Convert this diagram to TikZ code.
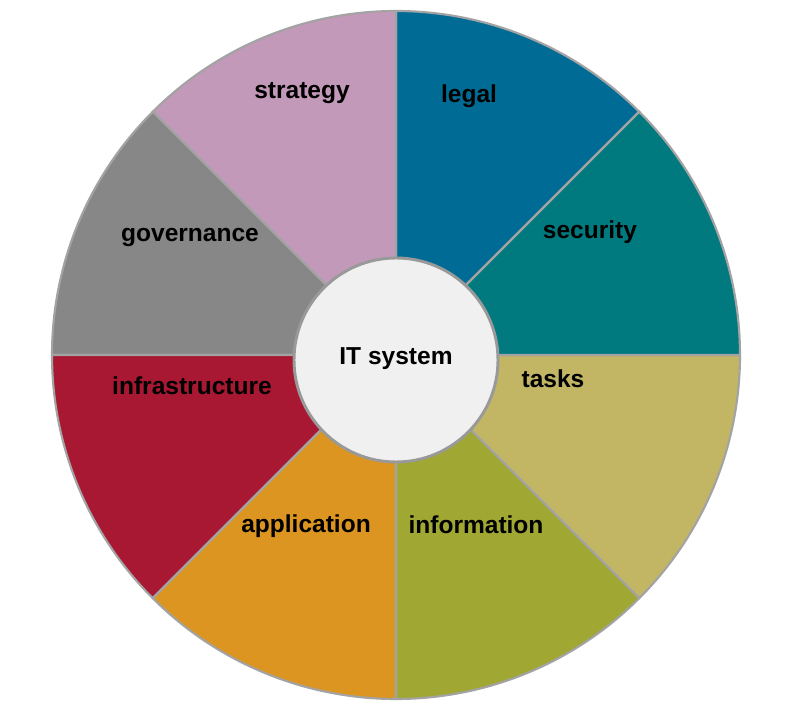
\documentclass[tikz,border=0pt]{standalone}
\usepackage{fontspec}
\setmainfont{Liberation Sans}
\definecolor{cStrategy}{HTML}{C299B8}
\definecolor{cLegal}{HTML}{006C96}
\definecolor{cSecurity}{HTML}{007A7E}
\definecolor{cTasks}{HTML}{C2B665}
\definecolor{cInfo}{HTML}{A0A733}
\definecolor{cApp}{HTML}{DC9520}
\definecolor{cInfra}{HTML}{A81832}
\definecolor{cGov}{HTML}{878787}
\definecolor{cEdge}{HTML}{A3A3A3}
\definecolor{cHub}{HTML}{F0F0F0}
\definecolor{cHubEdge}{HTML}{999999}
\tikzset{
  sector/.style={draw=cEdge, line width=1.6, line join=round},
  lbl/.style={font=\fontsize{18.4}{22}\selectfont\bfseries, text=black, inner sep=0},
}
\begin{document}
\begin{tikzpicture}[x=0.75pt,y=0.75pt]
\useasboundingbox (0,0) rectangle (793,713);
\coordinate (c) at (396,358);
\def\R{344}
\foreach \a/\b/\col in {45/90/cLegal, 90/135/cStrategy, 135/180/cGov, 180/225/cInfra, 225/270/cApp, 270/315/cInfo, 315/360/cTasks, 0/45/cSecurity}{
  \filldraw[sector, fill=\col] (c) -- ++(\a:\R) arc[start angle=\a, end angle=\b, radius=\R] -- cycle;
}
\node[circle, fill=cHub, draw=cHubEdge, line width=2.2, minimum size=204*0.75pt, inner sep=0] (hub) at (396,353) {};
\node[lbl] (it) at (396,354) {IT system};
\node[lbl] (strategy) at (302,620) {strategy};
\node[lbl] (legal) at (469,617) {legal};
\node[lbl] (security) at (590,481) {security};
\node[lbl] (tasks) at (553,334) {tasks};
\node[lbl] (information) at (476,188) {information};
\node[lbl] (application) at (306,187) {application};
\node[lbl] (infrastructure) at (192,327) {infrastructure};
\node[lbl] (governance) at (190,475) {governance};
\end{tikzpicture}
\end{document}
